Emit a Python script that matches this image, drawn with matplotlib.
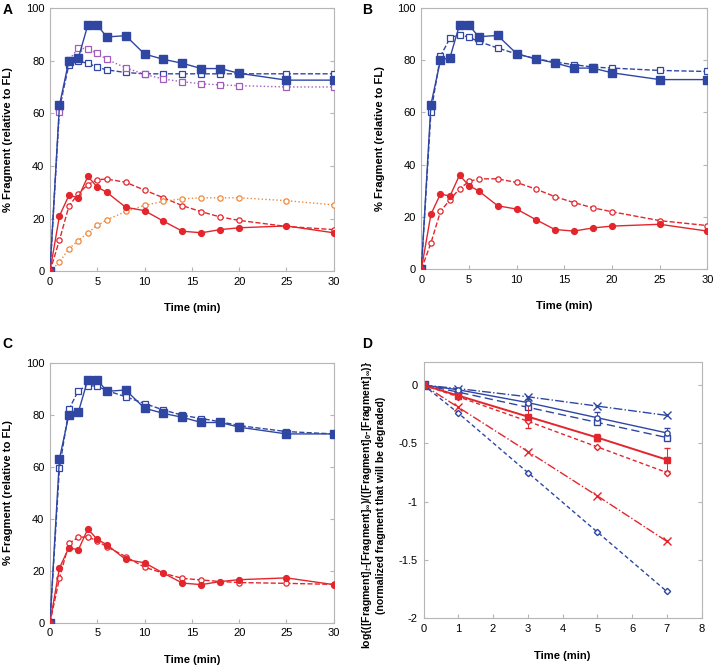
import matplotlib
matplotlib.use("Agg")
import matplotlib.pyplot as plt

plt.rcParams['font.family'] = ['Liberation Sans', 'DejaVu Sans']
plt.rcParams['mathtext.fontset'] = 'custom'
plt.rcParams['mathtext.rm'] = 'Liberation Sans:bold'
plt.rcParams['mathtext.bf'] = 'Liberation Sans:bold'

# data panel A-C (time in min, % fragment relative to FL)
time = [0, 1, 2, 3, 4, 5, 6, 8, 10, 12, 14, 16, 18, 20, 25, 30]
blue_fill = [0, 63, 80, 81, 93.5, 93.5, 89, 89.5, 82.5, 80.5, 79, 77, 77, 75.2, 72.6, 72.6]
red_fill = [0, 21, 28.8, 28, 36, 32, 30, 24.3, 23, 19, 15.2, 14.6, 15.8, 16.5, 17.2, 14.6]

a_blue_open = [0, 62, 78.5, 79.8, 79, 77.5, 76.5, 75.5, 75, 75, 75, 75, 75, 75, 75, 75]
a_purple = [0, 60.5, 80.2, 84.8, 84.5, 82.8, 80.5, 77.3, 74.8, 73, 72, 71.2, 70.8, 70.5, 70, 70]
a_red_open = [0, 11.8, 24.7, 29.5, 32.9, 34.8, 35, 33.8, 30.8, 27.9, 24.9, 22.6, 20.6, 19.3, 17, 15.8]
a_orange = [0, 3.4, 8.6, 11.6, 14.6, 17.4, 19.5, 22.7, 25, 26.6, 27.5, 27.9, 27.9, 27.9, 26.8, 25.2]

b_blue_open = [0, 60, 81.5, 88.5, 89.8, 88.8, 87.2, 84.7, 82.4, 80.6, 79.3, 78.3, 77.4, 77, 76.1, 75.7]
b_red_open = [0, 10, 22.1, 26.6, 30.8, 33.6, 34.6, 34.6, 33.2, 30.7, 27.8, 25.5, 23.5, 22, 18.6, 16.7]

c_blue_open = [0, 59.4, 82, 89.3, 91.2, 91, 89.3, 86.9, 84.3, 81.8, 79.8, 78.5, 77.3, 75.8, 73.5, 72.6]
c_red_open = [0, 17, 30.5, 32.8, 33, 31.4, 29.2, 25.4, 21.3, 19, 17, 16.4, 15.8, 15.4, 15.1, 14.7]

# data panel D
time_d = [0, 1, 3, 5, 7]
d_blue_x = [0, -0.03, -0.1, -0.18, -0.26]
d_blue_circle = [0, -0.04, -0.15, -0.28, -0.41]
d_blue_sq = [0, -0.06, -0.19, -0.32, -0.45]
d_red_sq = [0, -0.09, -0.27, -0.45, -0.64]
d_red_dia = [0, -0.1, -0.31, -0.53, -0.75]
d_red_x = [0, -0.19, -0.57, -0.95, -1.34]
d_blue_dia = [0, -0.24, -0.75, -1.26, -1.77]
d_blue_circle_err = [0, 0.01, 0.03, 0.05, 0.04]
d_red_sq_err = [0, 0.02, 0.1, 0.03, 0.1]

BLUE = '#2F47A3'
RED = '#E3262D'
PURPLE = '#A05DBB'
ORANGE = '#F0883A'
GRID = '#B5B5B5'


def style_ax(ax):
    for s in ax.spines.values():
        s.set_color(GRID)
        s.set_linewidth(0.8)
    ax.tick_params(direction='in', length=3, color=GRID, labelsize=8, pad=4,
                   right=True, top=False)
    ax.set_xlabel('Time (min)', fontsize=8.1, fontweight='bold', labelpad=12)


def fill_sq(ax, y, color=BLUE):
    ax.plot(time, y, '-', color=color, lw=1.0, marker='s', ms=5.5, mfc=color, mec=color, zorder=4)


def open_sq(ax, y, color, ls):
    ax.plot(time, y, ls, color=color, lw=1.0, marker='s', ms=4.6, mfc='white', mec=color, mew=0.9, zorder=3)


def fill_circ(ax, y):
    ax.plot(time, y, '-', color=RED, lw=1.0, marker='o', ms=4.2, mfc=RED, mec=RED, zorder=4)


def open_circ(ax, y, color, ls):
    ax.plot(time, y, ls, color=color, lw=1.0, marker='o', ms=3.8, mfc='white', mec=color, mew=0.9, zorder=3)


def time_ax(ax):
    ax.set_xlim(0, 30)
    ax.set_ylim(0, 100)
    ax.set_xticks([0, 5, 10, 15, 20, 25, 30])
    ax.set_yticks([0, 20, 40, 60, 80, 100])
    ax.set_ylabel('% Fragment (relative to FL)', fontsize=8.1, fontweight='bold', labelpad=9)
    style_ax(ax)


fig = plt.figure(figsize=(7.13, 6.68), dpi=100)

axA = fig.add_axes([0.0701, 0.594, 0.398, 0.394])
axB = fig.add_axes([0.591, 0.597, 0.401, 0.391])
axC = fig.add_axes([0.0701, 0.068, 0.398, 0.389])
axD = fig.add_axes([0.594, 0.0744, 0.390, 0.384])

# A
fill_sq(axA, blue_fill)
open_sq(axA, a_blue_open, BLUE, '--')
open_sq(axA, a_purple, PURPLE, ':')
fill_circ(axA, red_fill)
open_circ(axA, a_red_open, RED, '--')
open_circ(axA, a_orange, ORANGE, ':')
time_ax(axA)

# B
fill_sq(axB, blue_fill)
open_sq(axB, b_blue_open, BLUE, '--')
fill_circ(axB, red_fill)
open_circ(axB, b_red_open, RED, '--')
time_ax(axB)

# C
fill_sq(axC, blue_fill)
open_sq(axC, c_blue_open, BLUE, '--')
fill_circ(axC, red_fill)
open_circ(axC, c_red_open, RED, '--')
time_ax(axC)

# D
axD.plot(time_d, d_blue_x, '-.', color=BLUE, lw=1.0, marker='x', ms=5.5, mew=1.0)
axD.errorbar(time_d, d_blue_circle, yerr=d_blue_circle_err, fmt='-', color=BLUE, lw=1.0,
             marker='o', ms=3.8, mfc='white', mec=BLUE, capsize=2, elinewidth=0.7)
axD.plot(time_d, d_blue_sq, '--', color=BLUE, lw=1.0, marker='s', ms=4.5, mfc='white', mec=BLUE,
         dashes=(6, 3))
axD.errorbar(time_d, d_red_sq, yerr=d_red_sq_err, fmt='-', color=RED, lw=1.4,
             marker='s', ms=5, mfc=RED, mec=RED, capsize=2, elinewidth=0.7)
axD.plot(time_d, d_red_dia, '--', color=RED, lw=1.0, marker='D', ms=3.2, mfc='white', mec=RED,
         dashes=(3, 2))
axD.plot(time_d, d_red_x, '-.', color=RED, lw=1.0, marker='x', ms=6, mew=1.0)
axD.plot(time_d, d_blue_dia, '--', color=BLUE, lw=1.0, marker='D', ms=3.2, mfc='white', mec=BLUE,
         dashes=(3, 2))
axD.plot([0], [0], 's', color=BLUE, ms=5.5)
axD.set_xlim(0, 8)
axD.set_ylim(-2, 0.2)
axD.set_xticks(range(0, 9))
axD.set_yticks([-2, -1.5, -1, -0.5, 0])
axD.set_yticklabels(['-2', '-1.5', '-1', '-0.5', '0'])
axD.set_ylabel('log{([Fragment]$_{t}$-[Fragment]$_{\\infty}$)/([Fragment]$_{0}$-[Fragment]$_{\\infty}$)}\n'
               '(normalized fragment that will be degraded)',
               fontsize=7.6, fontweight='bold', labelpad=9, linespacing=1.25, y=0.44)
style_ax(axD)

for lab, x, y in [('A', 0.004, 0.995), ('B', 0.508, 0.995), ('C', 0.004, 0.495), ('D', 0.508, 0.495)]:
    fig.text(x, y, lab, fontsize=10, fontweight='bold', va='top', ha='left')

fig.savefig('out.png', dpi=100)
